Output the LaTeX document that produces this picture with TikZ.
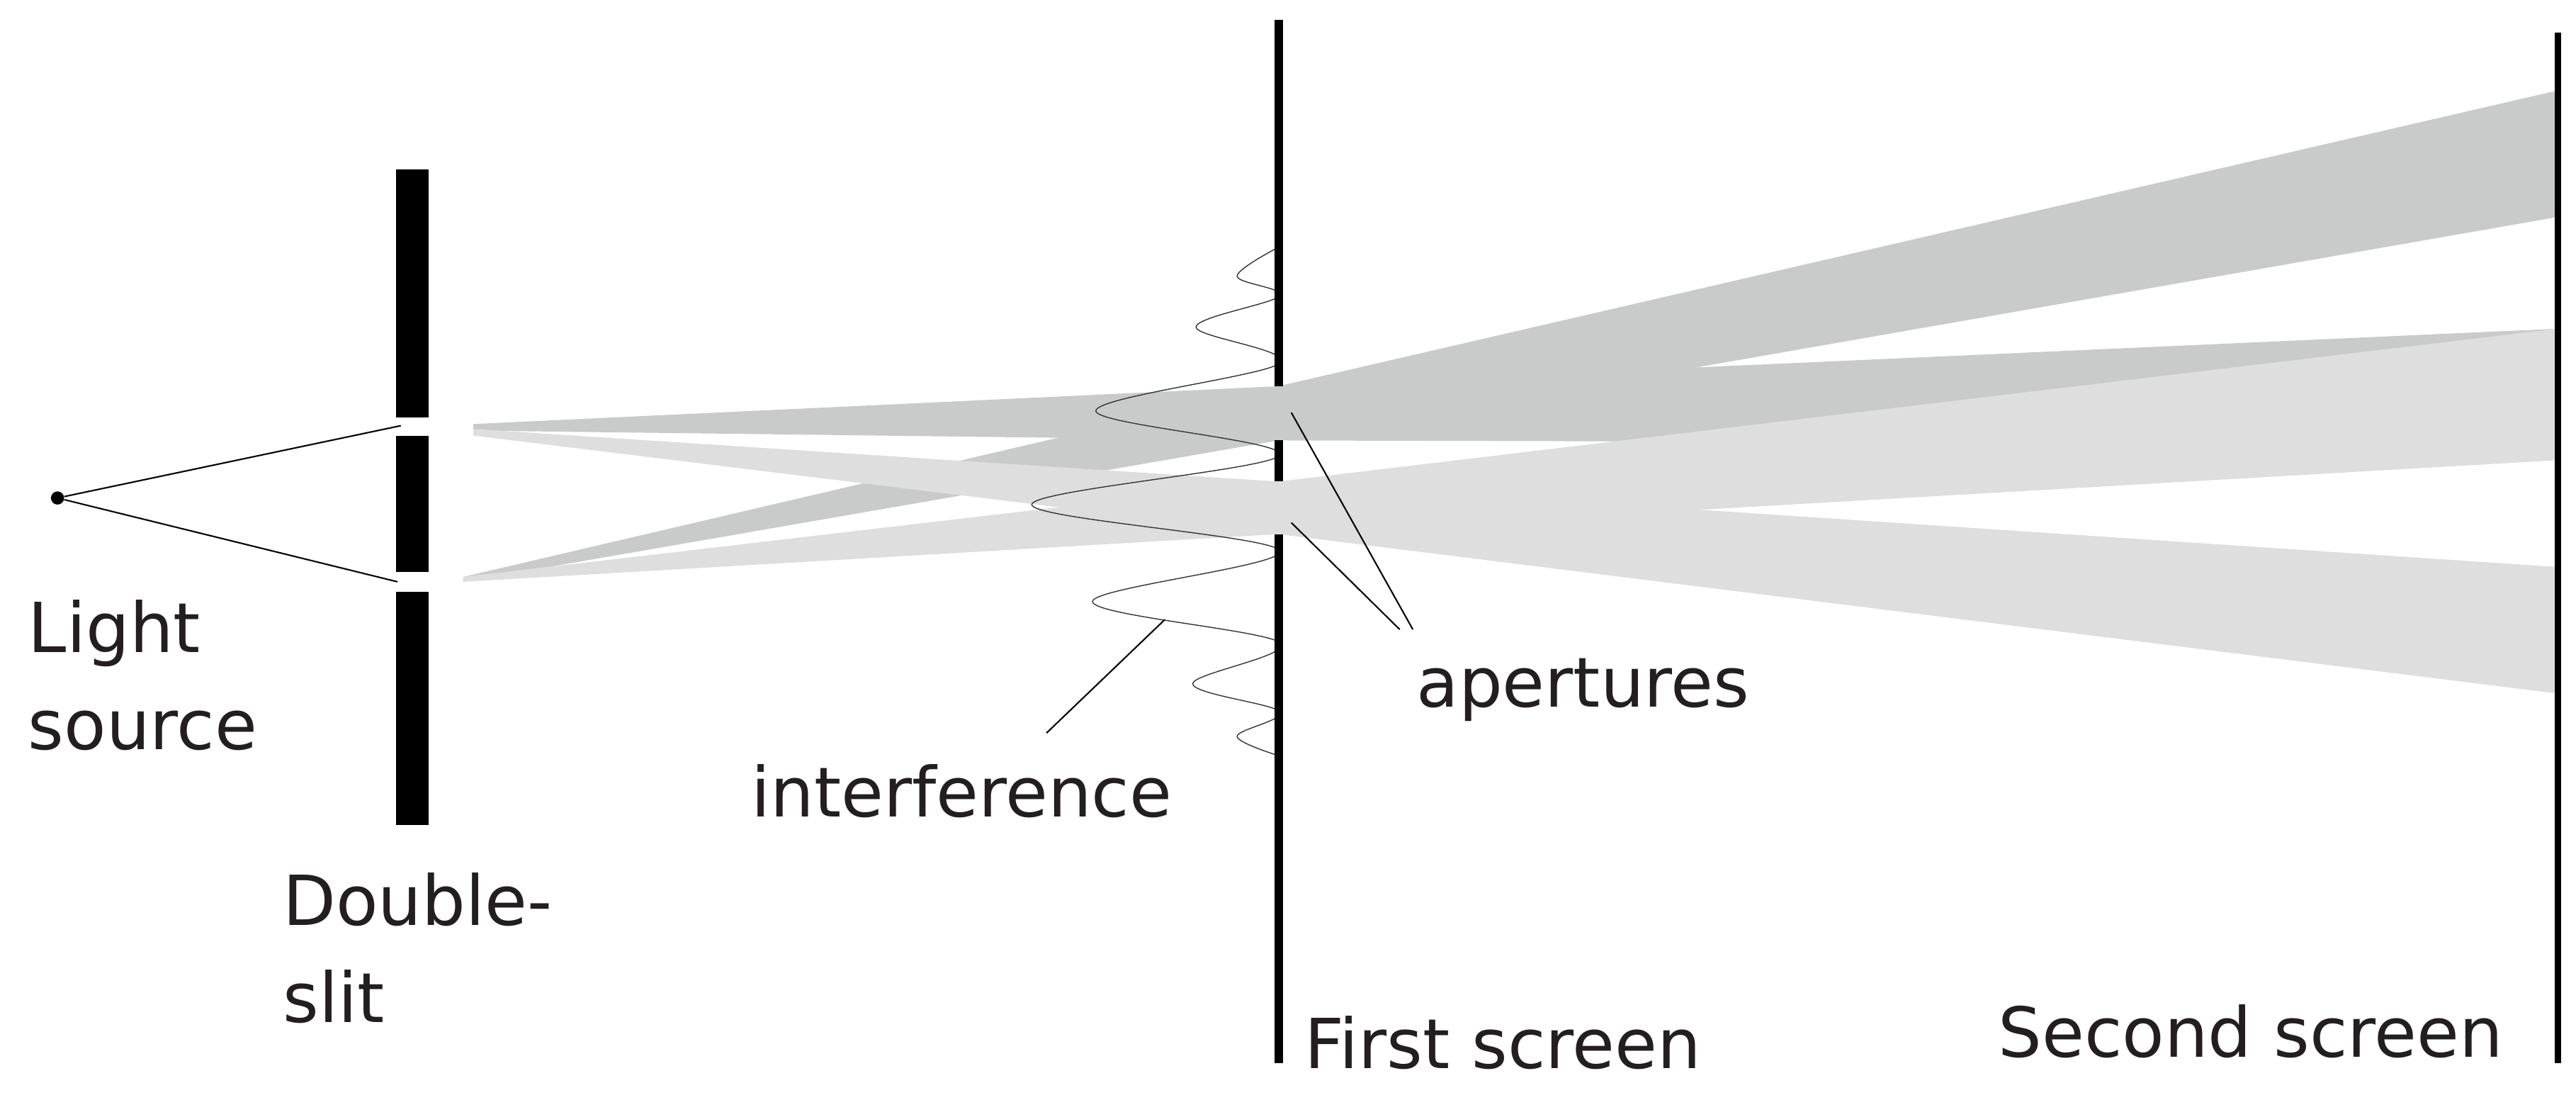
\documentclass[tikz,border=0pt]{standalone}
\usepackage{fontspec}
\setmainfont{DejaVu Sans}
\definecolor{dk}{HTML}{C9CBCA}
\definecolor{lt}{HTML}{DEDEDE}
\definecolor{txt}{HTML}{231F20}
\begin{document}
\begin{tikzpicture}[x=1pt,y=-1pt,
  lbl/.style={anchor=base west,inner sep=0pt,font=\fontsize{42}{59}\selectfont,text=txt,align=left},
  ptr/.style={line width=0.9pt,black},
  dkb/.style={fill=dk,draw=none},
  ltb/.style={fill=lt,draw=none}]
\useasboundingbox (0,0) rectangle (1568,669);
% beams before first screen
\fill[dkb] (288,258) -- (778,235) -- (778,268) -- (288,262) -- cycle;
\fill[dkb] (282,351) -- (778,235) -- (778,268) -- (282,354) -- cycle;
\fill[ltb] (288,261) -- (778,293) -- (778,325) -- (288,265) -- cycle;
\fill[ltb] (282,351) -- (778,293) -- (778,325) -- (282,354) -- cycle;
% beams after first screen
\fill[dkb] (778,235) -- (1557,55) -- (1557,132) -- (778,268) -- cycle;
\fill[dkb] (778,235) -- (1557,200) -- (1557,270) -- (778,268) -- cycle;
\fill[ltb] (778,293) -- (1557,200) -- (1557,280) -- (778,325) -- cycle;
\fill[ltb] (778,293) -- (1557,345) -- (1557,422) -- (778,325) -- cycle;
% interference pattern
\begin{scope}
\clip (0,0) rectangle (777,669);
\draw[line width=0.6pt,black!80] plot[smooth,tension=0.55] coordinates {
(779,150) (753,168) (779,180) (728,199) (779,221) (667,250) (779,277)
(628,307) (779,335) (665,366) (779,391) (726,416) (779,433) (753,448) (779,460)};
\end{scope}
% double slit
\fill (241,103) rectangle (261,254);
\fill (241,265) rectangle (261,348);
\fill (241,360) rectangle (261,502);
% screens
\fill (776,12) rectangle (781,235);
\fill (776,268) rectangle (781,293);
\fill (776,325) rectangle (781,647);
\fill (1555,20) rectangle (1559,647);
% light source
\node[circle,fill=black,inner sep=0pt,minimum size=8pt] (src) at (35,303) {};
\coordinate (s1) at (244,259);
\coordinate (s2) at (242,354);
\draw[ptr] (src) -- (s1);
\draw[ptr] (src) -- (s2);
% pointers
\coordinate (ia) at (637,446);
\coordinate (ib) at (709,377);
\draw[ptr] (ia) -- (ib);
\coordinate (aa) at (860,383);
\coordinate (ab) at (786,251);
\coordinate (ac) at (852,383);
\coordinate (ad) at (786,318);
\draw[ptr] (aa) -- (ab);
\draw[ptr] (ac) -- (ad);
% labels
\node[lbl] (t1) at (17,456) {Light\\source};
\node[lbl] (t2) at (172,622) {Double-\\slit};
\node[lbl] (t3) at (457,497) {interference};
\node[lbl] (t4) at (862,430) {apertures};
\node[lbl] (t5) at (794,650) {First screen};
\node[lbl] (t6) at (1216,643) {Second screen};
\end{tikzpicture}
\end{document}
